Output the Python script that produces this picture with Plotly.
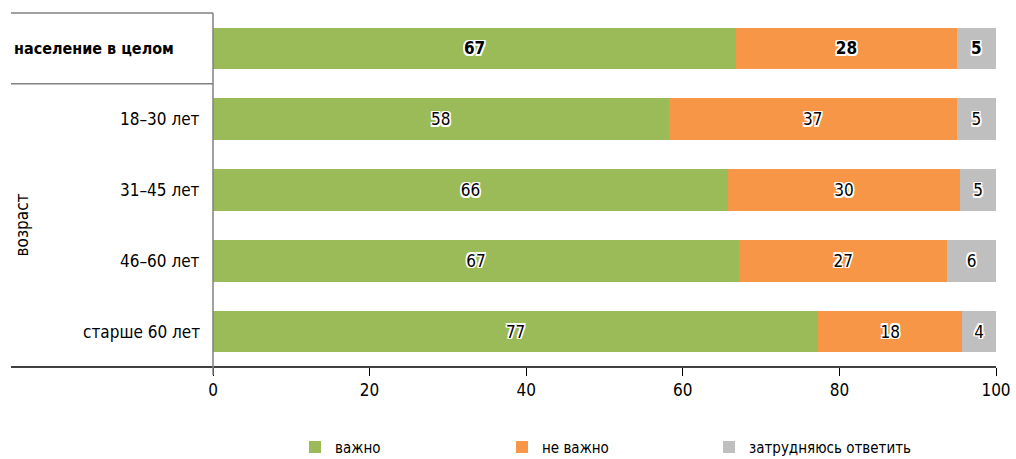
import plotly.graph_objects as go

categories = ["население в целом", "18–30 лет", "31–45 лет", "46–60 лет", "старше 60 лет"]
important = [66.8, 58.2, 65.8, 67.2, 77.3]
not_important = [28.2, 36.8, 29.6, 26.6, 18.4]
hard_to_say = [5.0, 5.0, 4.6, 6.2, 4.3]
series_names = ["важно", "не важно", "затрудняюсь ответить"]
colors = ["#9BBB59", "#F79646", "#BFBFBF"]
x_ticks = [0, 20, 40, 60, 80, 100]
group_label = "возраст"

FONT = "DejaVu Sans Condensed"
outline = ",".join(f"{dx}px {dy}px 0 white" for dx in (-1.5, 0, 1.5) for dy in (-1.5, 0, 1.5) if dx or dy)

fig = go.Figure()
for name, vals, col in zip(series_names, [important, not_important, hard_to_say], colors):
    labels = [f"<b>{round(v)}</b>" if i == 0 else f"{round(v)}" for i, v in enumerate(vals)]
    fig.add_trace(go.Bar(
        y=categories, x=vals, name=name, orientation="h",
        marker=dict(color=col, line=dict(width=0)),
        text=labels, textposition="inside", insidetextanchor="middle",
        textangle=0, hoverinfo="x+name",
        textfont=dict(family=FONT, size=17, color="black", shadow=outline),
        width=0.59,
    ))

fig.update_layout(
    barmode="stack",
    width=1016, height=459,
    margin=dict(l=213, r=20, t=13, b=92, autoexpand=False),
    paper_bgcolor="white", plot_bgcolor="white",
    font=dict(family=FONT, size=17, color="black"),
    showlegend=True,
    legend=dict(orientation="h", x=(295 - 213) / 783, xanchor="left", y=-0.18, yanchor="top",
                font=dict(size=15), traceorder="normal", itemwidth=30, entrywidth=162),
    xaxis=dict(range=[0, 100], tickvals=x_ticks, ticks="outside", ticklen=8, tickcolor="black",
               showgrid=False, zeroline=False, showline=False, fixedrange=True,
               tickfont=dict(size=17), automargin=False),
    yaxis=dict(showticklabels=False, showgrid=False, zeroline=False, fixedrange=True,
               showline=False, range=[4.5, -0.5], autorange=False, automargin=False),
)

# frame lines of the label column
fig.add_shape(type="line", xref="paper", yref="paper", x0=-202/783, x1=0, y0=1, y1=1,
              line=dict(color="#808080", width=1.5))
fig.add_shape(type="line", xref="paper", yref="y", x0=-202/783, x1=0, y0=0.5, y1=0.5,
              line=dict(color="#808080", width=1.5))
fig.add_shape(type="line", xref="paper", yref="paper", x0=-202/783, x1=1, y0=0, y1=0,
              line=dict(color="black", width=1.5))
fig.add_shape(type="line", xref="paper", yref="paper", x0=0, x1=0, y0=1, y1=-8/354,
              line=dict(color="#808080", width=1.5))

# category labels
for i, c in enumerate(categories):
    if i == 0:
        fig.add_annotation(x=-201/783, xref="paper", y=c, yref="y", text=f"<b>{c}</b>",
                           showarrow=False, xanchor="left", font=dict(size=16))
    else:
        fig.add_annotation(x=-11/783, xref="paper", y=c, yref="y", text=c,
                           showarrow=False, xanchor="right", font=dict(size=17))
fig.add_annotation(x=-191/783, xref="paper", y=2.5, yref="y", text=group_label, textangle=-90,
                   showarrow=False, xanchor="center", yanchor="middle", font=dict(size=17))

fig.write_html("out.html", config={"displayModeBar": False},
               post_script="document.body.style.margin='0px';document.body.style.overflow='hidden';")
